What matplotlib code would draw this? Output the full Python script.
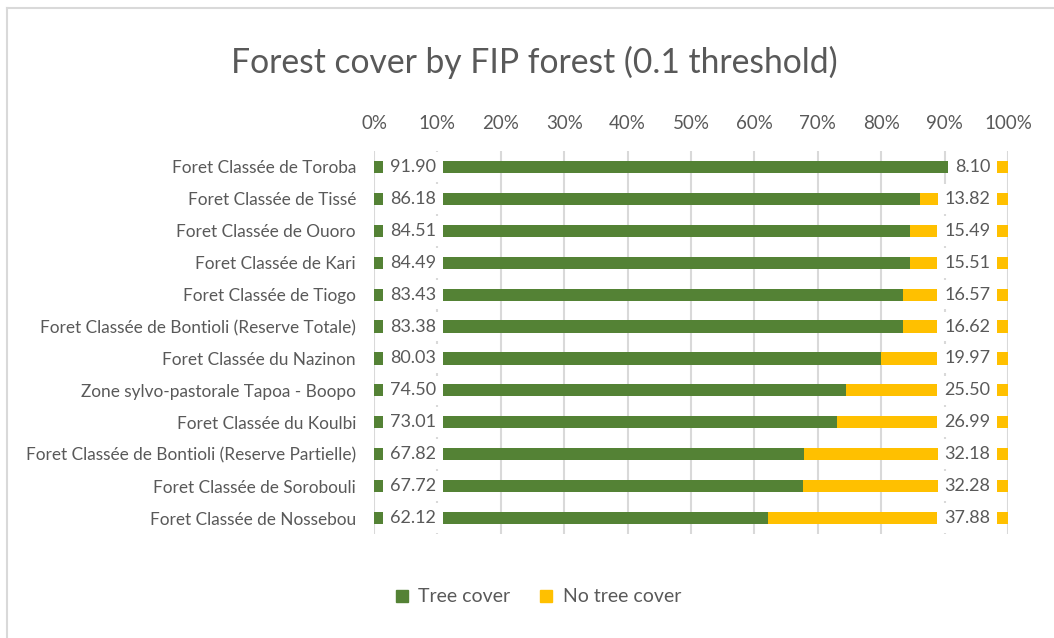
import matplotlib.pyplot as plt
from matplotlib.lines import Line2D
import numpy as np

plt.rcParams['font.family'] = ['Lato', 'DejaVu Sans']

forests = [
    "Foret Classée de Toroba",
    "Foret Classée de Tissé",
    "Foret Classée de Ouoro",
    "Foret Classée de Kari",
    "Foret Classée de Tiogo",
    "Foret Classée de Bontioli (Reserve Totale)",
    "Foret Classée du Nazinon",
    "Zone sylvo-pastorale Tapoa - Boopo",
    "Foret Classée du Koulbi",
    "Foret Classée de Bontioli (Reserve Partielle)",
    "Foret Classée de Sorobouli",
    "Foret Classée de Nossebou",
]
tree_cover = [91.90, 86.18, 84.51, 84.49, 83.43, 83.38, 80.03, 74.50, 73.01, 67.82, 67.72, 62.12]
no_tree_cover = [8.10, 13.82, 15.49, 15.51, 16.57, 16.62, 19.97, 25.50, 26.99, 32.18, 32.28, 37.88]
x_ticks = [0, 10, 20, 30, 40, 50, 60, 70, 80, 90, 100]

green = '#548235'
yellow = '#FFC000'
text_grey = '#595959'

fig = plt.figure(figsize=(10.54, 6.38), dpi=100)
ax = fig.add_axes([374 / 1054, 104 / 638, 634 / 1054, 383 / 638])

y = np.arange(len(forests))
bar_h = 0.38
ax.barh(y, tree_cover, height=bar_h, color=green, label='Tree cover', zorder=2)
ax.barh(y, no_tree_cover, left=tree_cover, height=bar_h, color=yellow,
        label='No tree cover', zorder=2)

# value labels sit on white boxes over the bars, like the Excel original
for i in range(len(forests)):
    ax.text(2.5, y[i], f"{tree_cover[i]:.2f}", ha='left', va='center',
            fontsize=13, color=text_grey, zorder=4,
            bbox=dict(boxstyle='square,pad=0.38', fc='white', ec='none'))
    ax.text(97.2, y[i], f"{no_tree_cover[i]:.2f}", ha='right', va='center',
            fontsize=13, color=text_grey, zorder=4,
            bbox=dict(boxstyle='square,pad=0.38', fc='white', ec='none'))

ax.set_xlim(0, 100)
ax.set_ylim(len(forests) - 0.5, -0.5)
ax.set_xticks(x_ticks)
ax.set_xticklabels([f"{t}%" for t in x_ticks])
ax.xaxis.tick_top()
ax.tick_params(axis='x', length=0, pad=14, labelsize=13.5, labelcolor=text_grey)
ax.set_yticks(y)
ax.set_yticklabels(forests)
ax.tick_params(axis='y', length=0, pad=13, labelsize=12.4, labelcolor=text_grey)
ax.grid(axis='x', color='#D9D9D9', linewidth=1.5, zorder=0)
ax.set_axisbelow(True)
for s in ax.spines.values():
    s.set_visible(False)

fig.text(534 / 1054, 1 - 62 / 638, "Forest cover by FIP forest (0.1 threshold)",
         ha='center', va='center', fontsize=24.2, color=text_grey)

handles = [Line2D([], [], marker='s', linestyle='none', markersize=9, color=green),
           Line2D([], [], marker='s', linestyle='none', markersize=9, color=yellow)]
fig.legend(handles, ['Tree cover', 'No tree cover'], loc='center',
           bbox_to_anchor=(538 / 1054, 1 - 597 / 638), ncol=2, frameon=False,
           fontsize=14, labelcolor=text_grey, handlelength=0.7,
           handletextpad=0.5, columnspacing=1.5)

# chart area border (left and top edges)
fig.add_artist(Line2D([7 / 1054, 7 / 1054], [0, 1 - 8 / 638], color='#D9D9D9', lw=1.5))
fig.add_artist(Line2D([7 / 1054, 1], [1 - 8 / 638, 1 - 8 / 638], color='#D9D9D9', lw=1.5))

fig.savefig('out.png', dpi=100)
